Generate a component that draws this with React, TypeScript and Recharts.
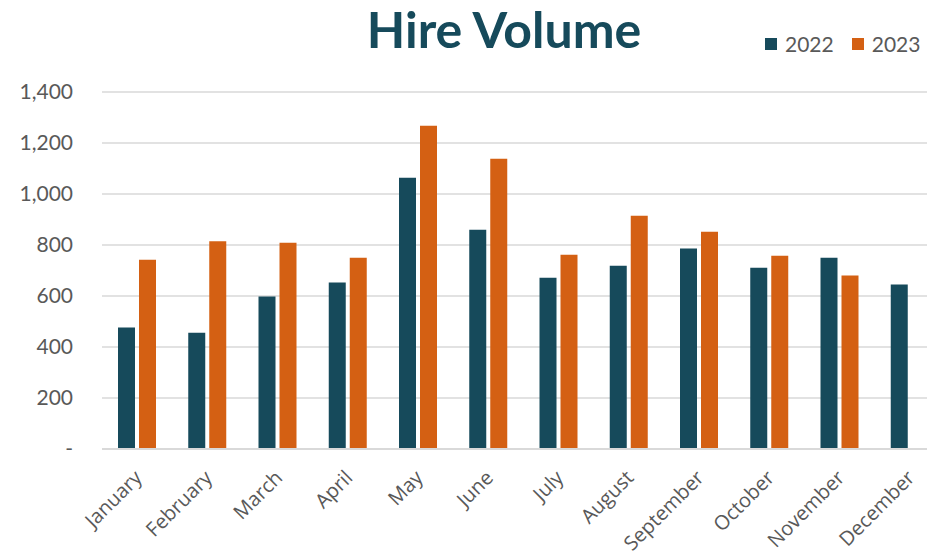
import { Bar, BarChart, CartesianGrid, XAxis, YAxis } from "recharts";

const MONTHS = ["January", "February", "March", "April", "May", "June", "July", "August", "September", "October", "November", "December"];
const HIRES_2022 = [476, 456, 598, 653, 1064, 860, 672, 719, 786, 711, 750, 645];
const HIRES_2023: (number | null)[] = [742, 815, 809, 750, 1268, 1138, 762, 915, 852, 758, 680, null];
const Y_TICKS = [0, 200, 400, 600, 800, 1000, 1200, 1400];

const TEAL = "#164a5b";
const ORANGE = "#d46013";
const GRAY = "#595959";
const FONT = "Lato, 'Open Sans', sans-serif";

const data = MONTHS.map((m, i) => ({ month: m, y2022: HIRES_2022[i], y2023: HIRES_2023[i] }));

export default function App() {
  return (
    <div style={{ position: "fixed", left: 0, top: 0, width: 927, height: 554, overflow: "hidden", background: "#fff", fontFamily: FONT }}>
      <div style={{ position: "absolute", left: 0, width: 1008, top: -1, textAlign: "center", fontSize: 50, fontWeight: 700, color: TEAL }}>
        Hire Volume
      </div>
      <div style={{ position: "absolute", top: 31, left: 765, display: "flex", alignItems: "center", fontSize: 21, color: GRAY }}>
        <span style={{ width: 12, height: 12, background: TEAL, display: "inline-block", marginRight: 8 }} />
        <span style={{ marginRight: 18 }}>2022</span>
        <span style={{ width: 12, height: 12, background: ORANGE, display: "inline-block", marginRight: 8 }} />
        <span>2023</span>
      </div>
      <BarChart width={945} height={554} data={data} margin={{ top: 92, right: 0, left: 0, bottom: 0 }} barSize={17} barGap={4}>
        <CartesianGrid vertical={false} stroke="#d9d9d9" strokeWidth={1.5} />
        <YAxis
          width={102}
          domain={[0, 1400]}
          ticks={Y_TICKS}
          axisLine={false}
          tickLine={false}
          tickSize={8}
          tickMargin={21}
          tick={{ fontSize: 21, fill: GRAY, fontFamily: FONT }}
          tickFormatter={(v: number) => (v === 0 ? "-" : v.toLocaleString("en-US"))}
        />
        <Bar dataKey="y2022" fill={TEAL} isAnimationActive={false} />
        <Bar dataKey="y2023" fill={ORANGE} isAnimationActive={false} />
        <XAxis
          dataKey="month"
          interval={0}
          height={105}
          axisLine={{ stroke: "#d9d9d9", strokeWidth: 2 }}
          tickLine={false}
          angle={-45}
          textAnchor="end"
          tick={{ fontSize: 20, fill: GRAY, fontFamily: "'Open Sans', sans-serif", dx: -4 }}
          tickMargin={14}
        />
      </BarChart>
    </div>
  );
}
